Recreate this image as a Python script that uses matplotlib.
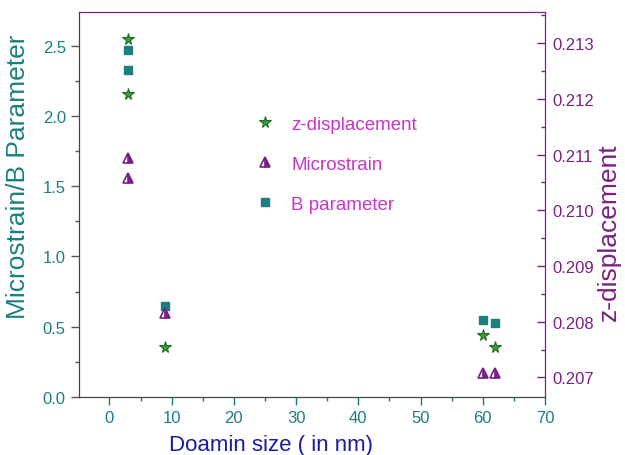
import matplotlib
matplotlib.use("Agg")
import matplotlib.pyplot as plt
from matplotlib.ticker import MultipleLocator

plt.rcParams["font.family"] = ["Liberation Sans", "DejaVu Sans"]

# Data
b_size = [3, 3, 9, 60, 62]
b_param = [2.47, 2.33, 0.65, 0.55, 0.525]

ms_size = [3, 3, 9, 60, 62]
microstrain = [1.70, 1.56, 0.60, 0.17, 0.17]

z_size = [3, 3, 9, 60, 62]
z_disp = [0.21308, 0.21209, 0.20755, 0.20776, 0.20755]

TEAL = "#1b7f80"
PURPLE = "#7a1f85"
MAGENTA = "#cc33cc"
BLUE = "#1a1aaa"

fig = plt.figure(figsize=(6.25, 4.56), dpi=100)
ax = fig.add_axes([0.1264, 0.1272, 0.7456, 0.8443])
ax2 = ax.twinx()

h_b, = ax.plot(b_size, b_param, linestyle="none", marker="s", markersize=6,
               color=TEAL, markeredgecolor=TEAL, label="B parameter")
h_ms, = ax.plot(ms_size, microstrain, linestyle="none", marker="^", markersize=7,
                color=PURPLE, markeredgecolor=PURPLE, fillstyle="right",
                markerfacecoloralt="white", markeredgewidth=1.2, label="Microstrain")
h_z, = ax2.plot(z_size, z_disp, linestyle="none", marker="*", markersize=8.5,
                color="#3aa03a", markeredgecolor="#1f6b1f", markeredgewidth=0.8,
                label="z-displacement")

ax.set_xlim(-4.9, 70)
ax.set_ylim(0, 2.74)
ax2.set_ylim(0.20665, 0.21356)

ax.xaxis.set_major_locator(MultipleLocator(10))
ax.xaxis.set_minor_locator(MultipleLocator(5))
ax.yaxis.set_major_locator(MultipleLocator(0.5))
ax.yaxis.set_minor_locator(MultipleLocator(0.25))
ax2.yaxis.set_major_locator(MultipleLocator(0.001))
ax2.yaxis.set_minor_locator(MultipleLocator(0.0005))
ax2.yaxis.set_major_formatter(plt.FormatStrFormatter("%.3f"))
ax.yaxis.set_major_formatter(plt.FormatStrFormatter("%.1f"))

ax.tick_params(axis="both", which="major", direction="out", length=6, width=1,
               color="#555555", labelsize=12, labelcolor=TEAL)
ax.tick_params(axis="both", which="minor", direction="out", length=3, width=1,
               color="#555555")
ax.tick_params(axis="x", which="both", color=TEAL)
ax2.tick_params(axis="y", which="major", direction="in", length=6, width=1,
                color=PURPLE, labelsize=12, labelcolor=PURPLE, pad=5)
ax2.tick_params(axis="y", which="minor", direction="in", length=3, width=1,
                color=PURPLE)

for side in ["left", "bottom"]:
    ax.spines[side].set_color("#444444")
    ax2.spines[side].set_color("#444444")
for side in ["top", "right"]:
    ax.spines[side].set_color(PURPLE)
    ax2.spines[side].set_color(PURPLE)

ax.set_xlabel("Doamin size ( in nm)", fontsize=16, color=BLUE)
ax.xaxis.set_label_coords(0.412, -0.095)
ax.set_ylabel("Microstrain/B Parameter", fontsize=19, color=TEAL)
ax.yaxis.set_label_coords(-0.105, 0.575)
ax2.set_ylabel("z-displacement", fontsize=19, color=PURPLE)
ax2.yaxis.set_label_coords(1.112, 0.43)

leg = ax2.legend(handles=[h_z, h_ms, h_b], loc="upper left",
                 bbox_to_anchor=(0.343, 0.775), frameon=False, fontsize=13.5,
                 labelspacing=1.22, handletextpad=0.9, handlelength=1.0)
for t in leg.get_texts():
    t.set_color(MAGENTA)

fig.savefig("out.png", dpi=100)
